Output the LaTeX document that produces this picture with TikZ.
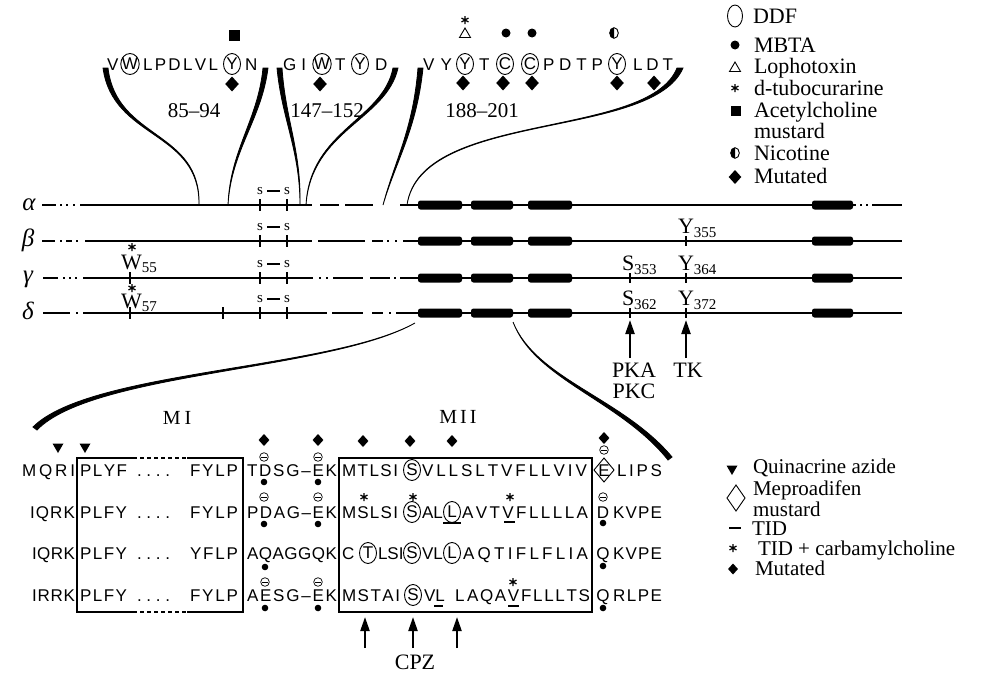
\documentclass[tikz,border=0pt]{standalone}
\usepackage{fontspec}
\setmainfont{Liberation Serif}
\newfontfamily\seqfont{Liberation Sans}
\usetikzlibrary{shapes.geometric,arrows.meta,calc}
\makeatletter
\newcommand\spreadit[1]{\hfilneg\@tfor\sp@next:=#1\do{\hfil\sp@next}}
\makeatother
\newcommand\fs[1]{\fontsize{#1}{#1}\selectfont}
\newcounter{nd}
\newcommand\seg[4]{\stepcounter{nd}\node[seq] (sg\arabic{nd}) at (#1,#3) {\makebox[\dimexpr #2pt-#1pt\relax][s]{\spreadit{#4}}};}
\newcommand\dmd[3]{\fill (#1,#2-#3) -- (#1+#3*0.9,#2) -- (#1,#2+#3) -- (#1-#3*0.9,#2) -- cycle;}
\newcommand\astr[3][4]{\draw[line width=1.2pt] (#2,#3-#1) -- (#2,#3+#1) (#2-0.87*#1,#3-0.5*#1) -- (#2+0.87*#1,#3+0.5*#1) (#2-0.87*#1,#3+0.5*#1) -- (#2+0.87*#1,#3-0.5*#1);}
\newcommand\tridn[2]{\fill (#1-5.5,#2-4.5) -- (#1+5.5,#2-4.5) -- (#1,#2+5) -- cycle;}
\newcommand\triup[2]{\draw[line width=0.9pt] (#1-5.5,#2+4.5) -- (#1+5.5,#2+4.5) -- (#1,#2-5) -- cycle;}
\newcommand\sqm[3]{\fill (#1-#3,#2-#3) rectangle (#1+#3,#2+#3);}
\newcommand\nic[2]{\fill (#1,#2-5.3) arc[start angle=90,end angle=270,x radius=4.3pt,y radius=5.3pt] -- cycle; \draw[line width=0.9pt] (#1,#2) ellipse (4.3pt and 5.3pt);}
\newcommand\minc[2]{\draw[line width=0.7pt] (#1,#2) circle (4.3pt); \draw[line width=0.8pt] (#1-2.6,#2) -- (#1+2.6,#2);}
\newcommand\dotm[3][3.3]{\fill (#2,#3) circle (#1pt);}
\newcommand\tck[3][6]{\draw[line width=1.3pt] (#2,#3-#1) -- (#2,#3+#1);}
\newcommand\chbar[3]{\fill[rounded corners=2.5pt] (#1,#3-4.5) rectangle (#2,#3+4.5);}
\newcommand\taper[5]{\filldraw[line width=0.8pt] #1 .. controls #2 and #3 .. #4 .. controls ($#3+0.25*#5$) and ($#2+0.7*#5$) .. ($#1+#5$) -- cycle;}
\begin{document}
\begin{tikzpicture}[x=1pt,y=-1pt,
  every node/.style={inner sep=0pt,outer sep=0pt},
  seq/.style={font=\seqfont\fs{17},anchor=base west},
  circl/.style={ellipse,draw,line width=0.9pt,minimum width=17pt,minimum height=21pt,inner xsep=-1.5pt,inner ysep=0pt,font=\seqfont\fs{17}},
  lbl/.style={font=\fs{22}},
  num/.style={font=\fs{21},anchor=base},
  legtxt/.style={font=\fs{22},anchor=base west},
  legtxtb/.style={font=\fs{21},anchor=base west},
  chain/.style={line width=1.8pt},
  arr/.style={line width=2.2pt,-{Triangle[width=9pt,length=14pt]}},
  boxln/.style={line width=1.2pt}]
\useasboundingbox (0,0) rectangle (982,672);

% ---------- top sequences ----------
\node[seq] (v1) at (107,70) {V};
\node[circl] (c1) at (130,64) {W};
\seg{143}{218}{70}{LPDLVL}
\node[circl] (c2) at (232,64) {Y};
\node[seq] (n1) at (245,70) {N};

\seg{283}{306}{70}{GI}
\node[circl] (c3) at (322,64) {W};
\node[seq] (t1) at (335,70) {T};
\node[circl] (c4) at (360,64) {Y};
\node[seq] (d1) at (375,70) {D};

\seg{423}{452}{70}{VY}
\node[circl] (c5) at (465,64) {Y};
\node[seq] (t2) at (479,70) {T};
\node[circl] (c6) at (505,64) {C};
\node[circl] (c7) at (530,64) {C};
\seg{543}{603}{70}{PDTP}
\node[circl] (c8) at (617,64) {Y};
\seg{633}{673}{70}{LDT}

\sqm{234}{35}{5.5}
\dmd{232}{84}{7.5}
\dmd{320}{84}{7.5}
\astr{465}{20}
\triup{465}{33}
\dotm[4.5]{506}{33}
\dotm[4.5]{532}{33}
\nic{614}{33}
\dmd{463}{83}{7.5}
\dmd{503}{83}{7.5}
\dmd{532}{83}{7.5}
\dmd{617}{83}{7.5}
\dmd{654}{83}{7.5}

\node[num] (r1) at (194,117) {85–94};
\node[num] (r2) at (327,117) {147–152};
\node[num] (r3) at (482,117) {188–201};

% ---------- tapered curves ----------
\taper{(103,68)}{(113,140)}{(200,130)}{(199,205)}{(5,0)}
\taper{(263,68)}{(258,120)}{(230,150)}{(228,205)}{(5,0)}
\taper{(277,68)}{(282,120)}{(300,150)}{(300,205)}{(5,0)}
\taper{(393,68)}{(383,120)}{(310,130)}{(306,205)}{(5,0)}
\taper{(418,68)}{(413,130)}{(395,160)}{(383,205)}{(5,0)}
\taper{(677,68)}{(648,140)}{(420,110)}{(407,205)}{(6,0)}
\taper{(33,427)}{(90,370)}{(330,370)}{(415,323)}{(4,3)}
\taper{(668,460)}{(620,400)}{(535,380)}{(513,322)}{(4,-3)}

% ---------- top legend ----------
\draw[line width=0.9pt] (735,16) ellipse (7.5pt and 11pt);
\node[legtxt] (l1) at (753,23) {DDF};
\dotm[4.5]{735}{45}
\node[legtxt] (l2) at (754,52) {MBTA};
\triup{735}{67}
\node[legtxt] (l3) at (754,73) {Lophotoxin};
\astr{735}{88}
\node[legtxt] (l4) at (754,95) {d-tubocurarine};
\sqm{736}{111}{5}
\node[legtxt] (l5) at (754,117) {Acetylcholine};
\node[legtxt] (l6) at (754,138) {mustard};
\nic{735}{153}
\node[legtxt] (l7) at (754,160) {Nicotine};
\dmd{735}{177}{7}
\node[legtxt] (l8) at (754,183) {Mutated};

% ---------- subunit chains ----------
\node[font=\itshape\fs{25}] (ga) at (29,205) {α};
\node[font=\itshape\fs{25}] (gb) at (28,240) {β};
\node[font=\itshape\fs{25}] (gg) at (28,279) {γ};
\node[font=\itshape\fs{25}] (gd) at (28,311) {δ};

\draw[chain] (42,205)--(56,205) (60,205)--(62,205) (66,205)--(68,205) (73,205)--(75,205) (80,205)--(312,205) (320,205)--(339,205) (345,205)--(373,205) (400,205)--(856,205) (860,205)--(862,205) (866,205)--(868,205) (872,205)--(902,205);
\draw[chain] (42,241)--(55,241) (60,241)--(62,241) (66,241)--(72,241) (76,241)--(78,241) (85,241)--(312,241) (318,241)--(365,241) (372,241)--(383,241) (387,241)--(389,241) (395,241)--(397,241) (403,241)--(902,241);
\draw[chain] (43,278)--(58,278) (63,278)--(65,278) (69,278)--(71,278) (75,278)--(77,278) (83,278)--(313,278) (319,278)--(321,278) (326,278)--(328,278) (333,278)--(363,278) (370,278)--(390,278) (394,278)--(396,278) (400,278)--(902,278);
\draw[chain] (43,313)--(70,313) (76,313)--(78,313) (83,313)--(327,313) (332,313)--(363,313) (372,313)--(383,313) (389,313)--(391,313) (396,313)--(902,313);

\foreach \yy in {205,241,278,313}{
  \chbar{418}{462}{\yy}\chbar{471}{513}{\yy}\chbar{528}{572}{\yy}\chbar{812}{853}{\yy}
  \tck{260}{\yy}\tck{287}{\yy}
  \node[font=\fs{15}] (sa\yy) at (260,\yy-14) {s};
  \node[font=\fs{15}] (sb\yy) at (287,\yy-14) {s};
  \draw[line width=1.6pt] (267,\yy-14) -- (280,\yy-14);
}

\astr{132}{247}
\node[lbl,anchor=base west] (w55) at (121,269) {W\raisebox{-3pt}{\fs{15}55}};
\astr{132}{288}
\node[lbl,anchor=base west] (w57) at (121,308) {W\raisebox{-3pt}{\fs{15}57}};
\tck{130}{278}\tck{130}{313}\tck{223}{313}

\node[lbl,anchor=base west] (y355) at (678,233) {Y\raisebox{-4pt}{\fs{15}355}};
\node[lbl,anchor=base west] (s353) at (622,270) {S\raisebox{-4pt}{\fs{15}353}};
\node[lbl,anchor=base west] (y364) at (678,270) {Y\raisebox{-4pt}{\fs{15}364}};
\node[lbl,anchor=base west] (s362) at (622,305) {S\raisebox{-4pt}{\fs{15}362}};
\node[lbl,anchor=base west] (y372) at (678,305) {Y\raisebox{-4pt}{\fs{15}372}};
\tck[5]{686}{241}\tck[5]{630}{278}\tck[5]{686}{278}\tck[5]{630}{313}\tck[5]{686}{313}

\node[lbl,anchor=base] (pka) at (634,377) {PKA};
\node[lbl,anchor=base] (tk) at (688,377) {TK};
\node[lbl,anchor=base] (pkc) at (634,398) {PKC};
\coordinate (pkat) at (630,320);
\coordinate (tkt) at (686,320);
\draw[arr] (630,358) -- (pkat);
\draw[arr] (686,358) -- (tkt);

% ---------- bottom: M1 / M2 ----------
\node[font=\fs{20},anchor=base] (m1) at (177,424) {M\kern4pt I};
\node[font=\fs{20},anchor=base] (m2) at (458,423) {M\kern3pt I\kern3pt I};

% row 1
\seg{22}{75}{476}{MQRI}
\seg{80}{127}{476}{PLYF}
\seg{137}{170}{476}{....}
\seg{190}{238}{476}{FYLP}
\seg{247}{337}{476}{TDSG–EK}
\seg{342}{398}{476}{MTLSI}
\node[circl] (b1s) at (412,470) {S};
\seg{422}{587}{476}{VLLSLTVFLLVIV}
\node[seq,anchor=base] (b1e) at (604,476) {E};
\draw[line width=0.9pt] (604,458) -- (614,470) -- (604,482) -- (594,470) -- cycle;
\seg{617}{662}{476}{LIPS}

% row 2
\seg{30}{75}{518}{IQRK}
\seg{80}{127}{518}{PLFY}
\seg{137}{170}{518}{....}
\seg{190}{238}{518}{FYLP}
\seg{247}{337}{518}{PDAG–EK}
\seg{342}{398}{518}{MSLSI}
\node[circl] (b2s) at (412,512) {S};
\seg{422}{442}{518}{AL}
\node[circl] (b2l) at (452,512) {L};
\seg{462}{588}{518}{AVTVFLLLLA}
\node[seq,anchor=base] (b2d) at (603,518) {D};
\seg{613}{662}{518}{KVPE}

% row 3
\seg{32}{75}{559}{IQRK}
\seg{80}{127}{559}{PLFY}
\seg{137}{170}{559}{....}
\seg{190}{238}{559}{YFLP}
\seg{247}{337}{559}{AQAGGQK}
\node[seq] (b3c) at (342,559) {C};
\node[circl] (b3t) at (368,553) {T};
\seg{378}{399}{559}{LSI}
\node[circl] (b3s) at (412,553) {S};
\seg{422}{440}{559}{VL}
\node[circl] (b3l) at (452,553) {L};
\seg{463}{588}{559}{AQTIFLFLIA}
\node[seq,anchor=base] (b3q) at (603,559) {Q};
\seg{613}{662}{559}{KVPE}

% row 4
\seg{32}{75}{601}{IRRK}
\seg{80}{127}{601}{PLFY}
\seg{137}{170}{601}{....}
\seg{190}{238}{601}{FYLP}
\seg{247}{337}{601}{AESG–EK}
\seg{342}{400}{601}{MSTAI}
\node[circl] (b4s) at (413,595) {S};
\seg{424}{444}{601}{VL}
\node[seq] (b4l) at (455,601) {L};
\seg{467}{590}{601}{AQAVFLLLTS}
\node[seq,anchor=base] (b4q) at (603,601) {Q};
\seg{613}{662}{601}{RLPE}

% boxes
\draw[boxln] (133,458) -- (77,458) -- (77,612) -- (133,612);
\draw[boxln] (187,458) -- (243,458) -- (243,612) -- (187,612);
\draw[boxln,dash pattern=on 4pt off 3pt] (133,458) -- (187,458) (133,612) -- (187,612);
\draw[boxln] (339,458) rectangle (592,612);

% symbols on bottom rows
\tridn{58}{448}\tridn{85}{448}
\dmd{264}{440}{6}\dmd{318}{440}{6}\dmd{363}{441}{6}\dmd{410}{441}{6}\dmd{452}{441}{6}\dmd{604}{438}{6}
\minc{264}{457}\minc{318}{457}\minc{604}{450}
\dotm{264}{482}\dotm{318}{482}
\minc{264}{497}\minc{318}{497}\minc{603}{497}
\dotm{264}{524}\dotm{318}{524}\dotm{603}{523}
\dotm{265}{567}\dotm{603}{566}
\minc{265}{582}\minc{318}{582}
\dotm{265}{608}\dotm{318}{608}\dotm{603}{608}
\astr{364}{497}\astr{413}{497}\astr{510}{497}\astr{513}{582}
\draw[line width=1.2pt] (443,523) -- (461,523) (504,522) -- (515,522) (434,606) -- (443,606) (508,606) -- (519,606);

% CPZ
\coordinate (cz1) at (365,617);
\coordinate (cz2) at (413,617);
\coordinate (cz3) at (457,617);
\draw[arr] (365,648) -- (cz1);
\draw[arr] (413,648) -- (cz2);
\draw[arr] (457,648) -- (cz3);
\node[lbl,anchor=base] (cpz) at (415,669) {CPZ};

% ---------- bottom legend ----------
\tridn{732}{470}
\node[legtxtb] (q1) at (753,473) {Quinacrine azide};
\draw[line width=0.9pt] (736,485) -- (745,498) -- (736,511) -- (727,498) -- cycle;
\node[legtxtb] (q2) at (753,495) {Meproadifen};
\node[legtxtb] (q3) at (753,516) {mustard};
\draw[line width=1.3pt] (729,528) -- (741,528);
\node[legtxtb] (q4) at (752,535) {TID};
\astr{733}{548}
\node[legtxtb] (q5) at (758,555) {TID + carbamylcholine};
\dmd{733}{569}{5.5}
\node[legtxtb] (q6) at (755,575) {Mutated};
\end{tikzpicture}
\end{document}
